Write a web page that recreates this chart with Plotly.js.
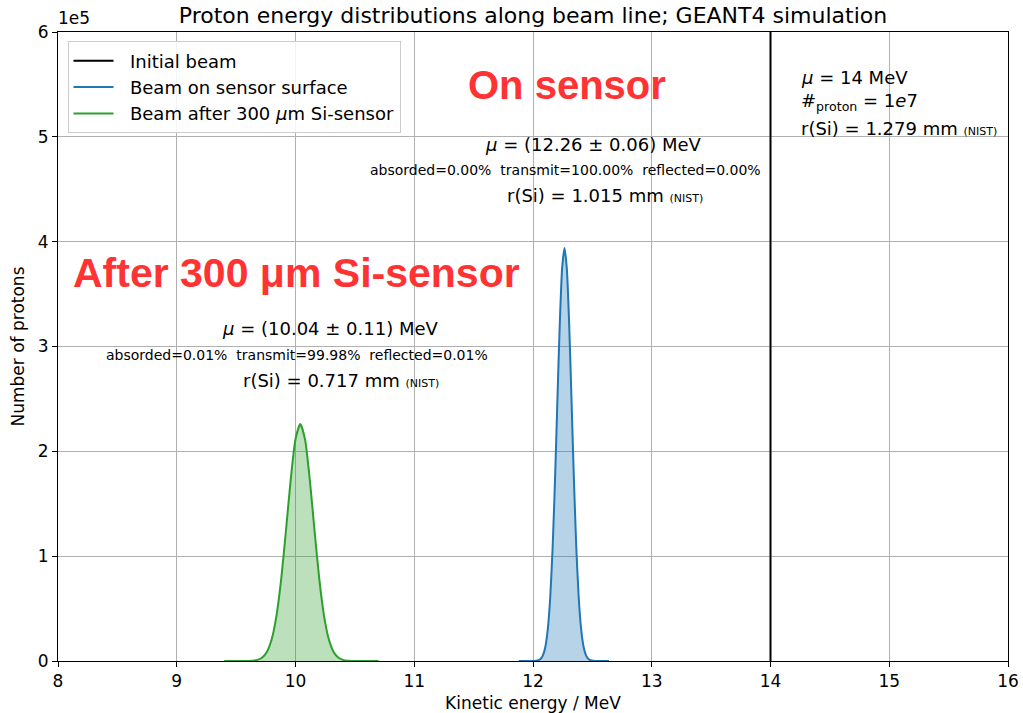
<!DOCTYPE html>
<html>
<head>
<meta charset="utf-8">
<script src="https://cdn.plot.ly/plotly-3.0.1.min.js"></script>
<style>html,body{margin:0;padding:0;background:#fff;}#chart{width:1023px;height:713px;}</style>
</head>
<body>
<div id="chart"></div>
<script>
// Initial beam (delta at 14 MeV, 1e7 protons)
const initialX = [14, 14];
const initialY = [0, 1e7];

// Beam on sensor surface (counts)
const sensorX = [11.88, 11.985, 12.005, 12.025, 12.045, 12.065, 12.085, 12.105, 12.125, 12.145, 12.165, 12.185, 12.205, 12.225, 12.245,
  12.265, 12.285, 12.305, 12.325, 12.345, 12.365, 12.385, 12.405, 12.425, 12.445, 12.465, 12.485, 12.505, 12.525, 12.545, 12.64];
const sensorY = [0, 10, 60, 220, 720, 2170, 5820, 14110, 30810, 60540, 107300, 171400, 246700, 320000, 374000,
  394000, 374000, 320000, 246700, 171400, 107300, 60540, 30810, 14110, 5820, 2170, 720, 220, 60, 10, 0];

// Beam after 300 um Si-sensor (counts)
const afterX = [9.40, 9.50, 9.56, 9.60, 9.64, 9.68, 9.72, 9.76, 9.80, 9.84, 9.88, 9.92, 9.96, 10.00, 10.04,
  10.08, 10.12, 10.16, 10.20, 10.24, 10.28, 10.32, 10.36, 10.40, 10.44, 10.48, 10.52, 10.60, 10.70];
const afterY = [0, 0, 20, 80, 310, 1070, 3290, 8860, 20900, 43300, 78500, 124700, 173500, 211500, 226000,
  211500, 173500, 124700, 78500, 43300, 20900, 8860, 3290, 1070, 310, 80, 20, 0, 0];

const seriesNames = ['Initial beam', 'Beam on sensor surface', 'Beam after 300 <i>μ</i>m Si-sensor'];
const seriesColors = ['#000000', '#1f77b4', '#2ca02c'];

const yTickVals = [0, 1e5, 2e5, 3e5, 4e5, 5e5, 6e5];
const yTickText = ['0', '1', '2', '3', '4', '5', '6'];
const xTickVals = [8, 9, 10, 11, 12, 13, 14, 15, 16];

const FONT = 'DejaVu Sans, sans-serif';
const RED = '#ff3333';

const traces = [
  {x: initialX, y: initialY, type: 'scatter', mode: 'lines', name: seriesNames[0], showlegend: false,
   line: {color: seriesColors[0], width: 2}},
  {x: sensorX, y: sensorY, type: 'scatter', mode: 'lines', name: seriesNames[1], showlegend: false,
   line: {color: seriesColors[1], width: 2, shape: 'spline', smoothing: 0.6},
   fill: 'tozeroy', fillcolor: 'rgba(31,119,180,0.32)'},
  {x: afterX, y: afterY, type: 'scatter', mode: 'lines', name: seriesNames[2], showlegend: false,
   line: {color: seriesColors[2], width: 2, shape: 'spline', smoothing: 0.6},
   fill: 'tozeroy', fillcolor: 'rgba(44,160,44,0.32)'}
];
// legend entries (line-only swatches, as in the reference)
seriesNames.forEach(function (n, i) {
  traces.push({x: [null], y: [null], type: 'scatter', mode: 'lines', name: '&nbsp;&nbsp;' + n, showlegend: true,
    line: {color: seriesColors[i], width: 2}});
});

function ann(x, y, text, size, opts) {
  return Object.assign({xref: 'paper', yref: 'paper', x: x, y: y, text: text, showarrow: false,
    font: {family: FONT, size: size, color: '#000'}, xanchor: 'center', yanchor: 'middle'}, opts || {});
}
// paper coords helpers: plot area l=58, r=1008, t=32, b=661
function px(xp) { return (xp - 58) / 950; }
function py(yp) { return (661 - yp) / 629; }

const NIST = '<span style="font-size:11px">(NIST)</span>';
const annotations = [
  ann(px(567), py(85), '<b>On sensor</b>', 40, {font: {family: 'Liberation Sans, Arial, sans-serif', size: 40, color: RED}}),
  ann(px(296), py(273), '<b>After 300 μm Si-sensor</b>', 41, {font: {family: 'Liberation Sans, Arial, sans-serif', size: 41, color: RED}}),
  ann(px(593), py(144), '<i>μ</i> = (12.26 ± 0.06) MeV', 18),
  ann(px(565), py(170), 'absorded=0.00%  transmit=100.00%  reflected=0.00%', 14),
  ann(px(605), py(195), 'r(Si) = 1.015 mm ' + NIST, 18),
  ann(px(330), py(328), '<i>μ</i> = (10.04 ± 0.11) MeV', 18),
  ann(px(297), py(355), 'absorded=0.01%  transmit=99.98%  reflected=0.01%', 14),
  ann(px(341), py(380), 'r(Si) = 0.717 mm ' + NIST, 18),
  ann(px(799), py(77), '<i>μ</i> = 14 MeV', 18, {xanchor: 'left'}),
  ann(px(799), py(102), '#<sub>proton</sub> = 1<i>e</i>7', 18, {xanchor: 'left'}),
  ann(px(799), py(128), 'r(Si) = 1.279 mm ' + NIST, 18, {xanchor: 'left'}),
  ann(0, 1, '1e5', 17, {xanchor: 'left', yanchor: 'bottom', yshift: 2, xshift: -2})
];

const layout = {
  width: 1023, height: 713,
  margin: {l: 58, r: 15, t: 32, b: 52},
  paper_bgcolor: '#ffffff', plot_bgcolor: '#ffffff',
  font: {family: FONT, size: 17, color: '#000'},
  title: {text: 'Proton energy distributions along beam line; GEANT4 simulation',
    font: {family: FONT, size: 22, color: '#000'}, x: 0.521, xanchor: 'center', y: 0.978, yanchor: 'middle'},
  xaxis: {range: [8, 16], tickvals: xTickVals, ticks: 'outside', ticklen: 5, tickcolor: '#000',
    showline: true, linecolor: '#000', linewidth: 1, mirror: true,
    showgrid: true, gridcolor: '#b0b0b0', gridwidth: 1, zeroline: false,
    tickfont: {family: FONT, size: 17},
    title: {text: 'Kinetic energy / MeV', font: {family: FONT, size: 17}, standoff: 6}},
  yaxis: {range: [0, 6e5], tickvals: yTickVals, ticktext: yTickText, ticks: 'outside', ticklen: 5, tickcolor: '#000',
    showline: true, linecolor: '#000', linewidth: 1, mirror: true,
    showgrid: true, gridcolor: '#b0b0b0', gridwidth: 1, zeroline: false,
    tickfont: {family: FONT, size: 17},
    title: {text: 'Number of protons', font: {family: FONT, size: 17}, standoff: 8}},
  legend: {x: 0.01, y: 0.985, xanchor: 'left', yanchor: 'top', bgcolor: 'rgba(255,255,255,0.85)',
    bordercolor: '#cccccc', borderwidth: 1, font: {family: FONT, size: 18}, tracegroupgap: 0,
    itemwidth: 40},
  showlegend: true,
  annotations: annotations
};

Plotly.newPlot('chart', traces, layout, {displayModeBar: false, staticPlot: true});
</script>
</body>
</html>
